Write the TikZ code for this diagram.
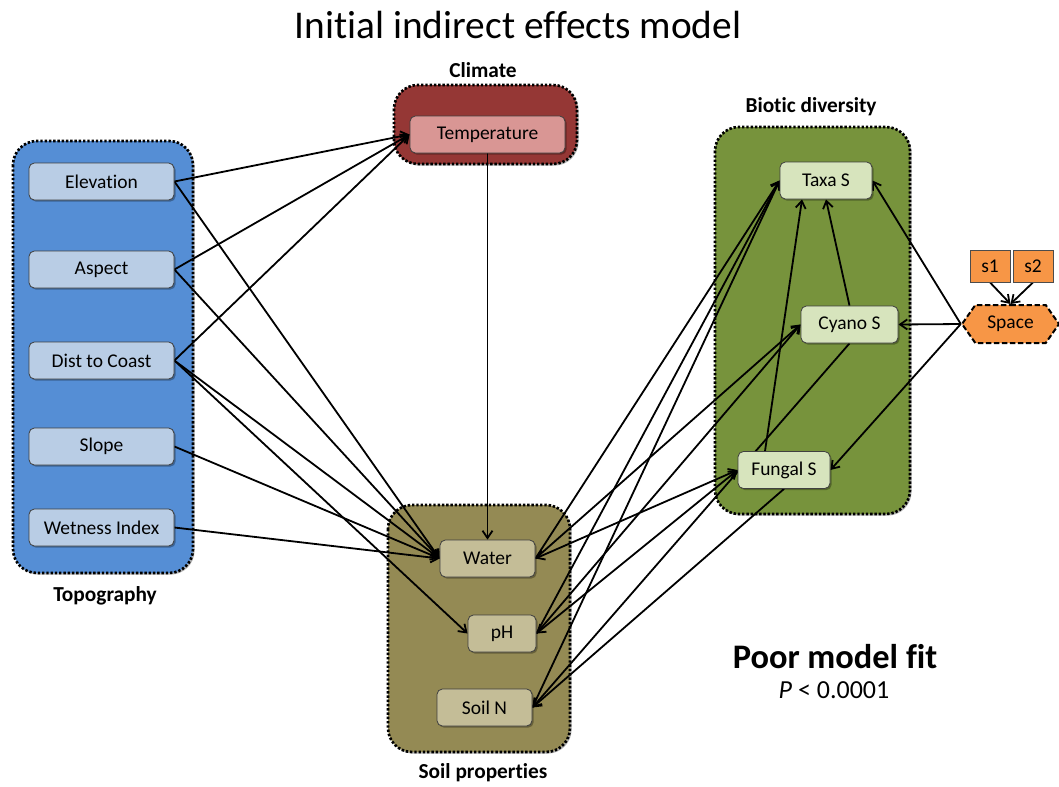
\documentclass[tikz,border=0pt]{standalone}
\usepackage{fontspec}
\setmainfont{Carlito}[Ligatures=NoCommon]
\usetikzlibrary{arrows.meta,shapes.symbols,shadows}

\definecolor{topoblue}{HTML}{558ED5}
\definecolor{topolight}{HTML}{B9CDE5}
\definecolor{climred}{HTML}{953735}
\definecolor{climlight}{HTML}{D99694}
\definecolor{soilbrown}{HTML}{948A54}
\definecolor{soillight}{HTML}{C4BD97}
\definecolor{biogreen}{HTML}{77933C}
\definecolor{biolight}{HTML}{D7E4BD}
\definecolor{spaceorange}{HTML}{F79646}

\pgfdeclarelayer{groups}
\pgfdeclarelayer{links}
\pgfsetlayers{groups,links,main}

\begin{document}
\begin{tikzpicture}[x=0.75pt,y=-0.75pt,
  softshadow/.style={drop shadow={shadow xshift=1.2pt,shadow yshift=-1.2pt,opacity=0.3,fill=black}},
  grp/.style={draw=black, line width=2pt, dash pattern=on 1.8pt off 1.4pt, rounded corners=18pt, softshadow},
  var/.style={draw=black!75, line width=0.6pt, rounded corners=4pt, inner sep=0pt,
    minimum height=27.75pt, font=\fontsize{14.6}{17}\selectfont, softshadow},
  grplabel/.style={font=\fontsize{16}{19}\selectfont\bfseries},
  link/.style={-{Straight Barb[length=5.5pt,width=7.5pt]}, line width=1.35pt},
  twoway/.style={{Straight Barb[length=5.5pt,width=7.5pt]}-{Straight Barb[length=5.5pt,width=7.5pt]}, line width=1.35pt}
]
\useasboundingbox (0,0) rectangle (1059,786);

% group panels
\begin{pgfonlayer}{groups}
  \draw[grp, fill=topoblue] (13,141) rectangle (193,573);
  \draw[grp, fill=climred] (394,85) rectangle (577,164);
  \draw[grp, fill=soilbrown] (388,505) rectangle (570,752);
  \draw[grp, fill=biogreen] (715,127) rectangle (910,514);
\end{pgfonlayer}

% titles and labels
\node (title) at (518,25) {\fontsize{29.5}{34}\selectfont Initial indirect effects model};
\node[grplabel] (lclim) at (483,70) {Climate};
\node[grplabel] (lbio) at (811,107) {Biotic diversity};
\node[grplabel] (ltopo) at (105,596) {Topography};
\node[grplabel] (lsoil) at (483,773) {Soil properties};
\node (fit) at (835,657) {\fontsize{25.8}{30}\selectfont\bfseries Poor model fit};
\node (pval) at (834,690) {\fontsize{19.5}{23}\selectfont\textit{P} < 0.0001};

% topography
\node[var, fill=topolight, minimum width=108.75pt] (elev) at (101.5,181.5) {Elevation};
\node[var, fill=topolight, minimum width=108.75pt] (asp) at (101.5,269.5) {Aspect};
\node[var, fill=topolight, minimum width=108.75pt] (dist) at (101.5,360.5) {Dist to Coast};
\node[var, fill=topolight, minimum width=108.75pt] (slope) at (101.5,446.5) {Slope};
\node[var, fill=topolight, minimum width=108.75pt] (wet) at (101.5,527.5) {Wetness Index};

% climate
\node[var, fill=climlight, minimum width=116.25pt] (temp) at (487.5,134.5) {Temperature};

% soil properties
\node[var, fill=soillight, minimum width=71.25pt] (water) at (487.5,558.5) {Water};
\node[var, fill=soillight, minimum width=51pt] (ph) at (502,633.5) {pH};
\node[var, fill=soillight, minimum width=71.25pt] (soiln) at (484.5,707.5) {Soil N};

% biotic diversity
\node[var, fill=biolight, minimum width=69pt] (taxa) at (826,180.5) {Taxa S};
\node[var, fill=biolight, minimum width=72.75pt] (cyano) at (849.5,324.5) {Cyano S};
\node[var, fill=biolight, minimum width=69pt] (fungal) at (784,470) {Fungal S};

% spatial terms
\node[shape=signal, signal to=west and east, signal pointer angle=110,
  draw=black, line width=1.5pt, dash pattern=on 4pt off 2pt, fill=spaceorange,
  minimum width=72.75pt, minimum height=28.5pt, inner sep=0pt,
  font=\fontsize{14.6}{17}\selectfont] (space) at (1010.5,324) {Space};
\node[draw=black!70, line width=0.6pt, fill=spaceorange, minimum width=30pt, minimum height=24pt,
  inner sep=0pt, font=\fontsize{14.6}{17}\selectfont] (s1) at (990,266) {s1};
\node[draw=black!70, line width=0.6pt, fill=spaceorange, minimum width=30pt, minimum height=24pt,
  inner sep=0pt, font=\fontsize{14.6}{17}\selectfont] (s2) at (1033,266) {s2};

% paths
\begin{pgfonlayer}{links}
  \draw[link] (elev.east) -- (temp.west);
  \draw[link] (asp.east) -- (temp.west);
  \draw[link] (dist.east) -- (temp.west);
  \draw[link] (elev.east) -- (water.west);
  \draw[link] (asp.east) -- (water.west);
  \draw[link] (dist.east) -- (water.west);
  \draw[link] (slope.east) -- (water.west);
  \draw[link] (wet.east) -- (water.west);
  \draw[link] (dist.east) -- (ph.west);
  \draw[link] (temp.south) -- (water.north);

  \draw[link] (water.east) -- (taxa.west);
  \draw[link] (ph.east) -- (taxa.west);
  \draw[link] (soiln.east) -- (taxa.west);
  \draw[link] (water.east) -- (cyano.west);
  \draw[link] (ph.east) -- (cyano.west);
  \draw[twoway] (water.east) -- (fungal.west);
  \draw[twoway] (ph.east) -- (fungal.west);
  \draw[link] (cyano.south) -- (soiln.east);
  \draw[link] (fungal.south) -- (soiln.east);

  \draw[link] ([xshift=-14.25pt]fungal.north) -- ([xshift=-18pt]taxa.south);
  \draw[link] (cyano.north) -- (taxa.south);

  \draw[link] (space.west) -- (taxa.east);
  \draw[link] (space.west) -- (cyano.east);
  \draw[link] (space.west) -- (fungal.east);
  \draw[link] (s1.south) -- (space.north);
  \draw[link] (s2.south) -- (space.north);
\end{pgfonlayer}
\end{tikzpicture}
\end{document}
